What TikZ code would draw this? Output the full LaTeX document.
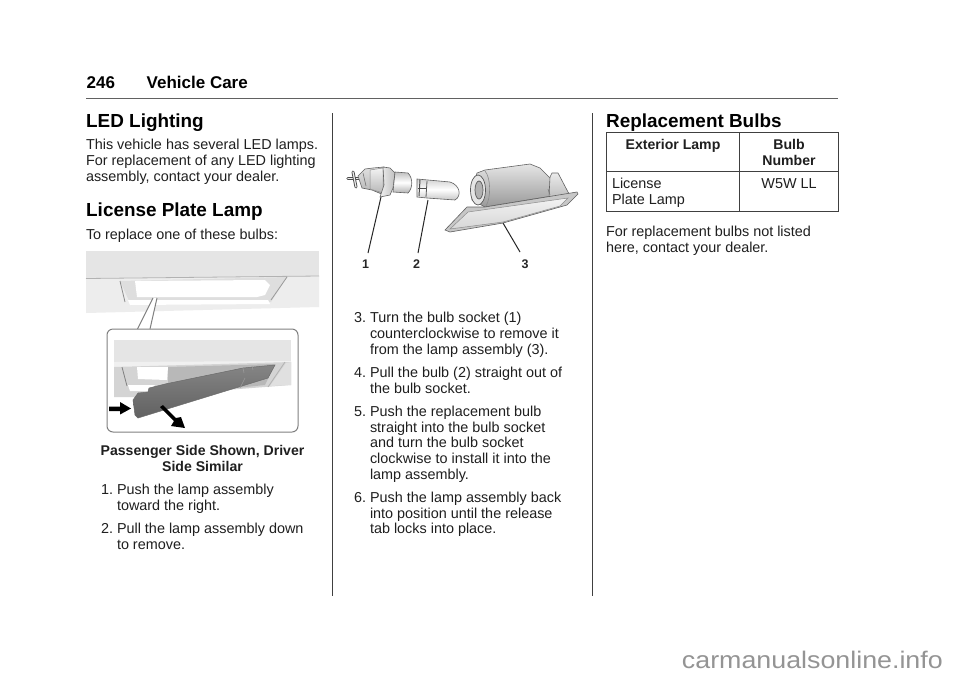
\documentclass[tikz,border=0pt]{standalone}
\usepackage{fontspec}
\setmainfont{Liberation Sans}
\newcommand{\stepnum}[1]{\makebox[16pt][l]{#1}}
\tikzset{
  body/.style={anchor=base west,inner sep=0pt,outer sep=0pt,font=\fontsize{14.4}{16}\selectfont,text=black!88},
  bodyc/.style={anchor=base,inner sep=0pt,outer sep=0pt,font=\fontsize{14.1}{16}\bfseries\selectfont,text=black!88},
  cell/.style={body,anchor=base},
  head/.style={anchor=base west,inner sep=0pt,font=\fontsize{18.9}{21}\bfseries\selectfont},
  pagehead/.style={anchor=base west,inner sep=0pt,font=\fontsize{17}{19}\bfseries\selectfont},
  rulev/.style={draw=black!75,line width=0.9pt},
  leader/.style={draw=black!85,line width=1pt},
  num/.style={anchor=base,inner sep=0pt,font=\fontsize{12.5}{14}\bfseries\selectfont,text=black!85},
  callout/.style={draw=black!50,line width=1pt,fill=white,rounded corners=6pt},
  arrowfill/.style={fill=black,draw=none},
  lampdark/.style={top color=black!48,bottom color=black!62,draw=black!58,line width=0.5pt},
  part/.style={draw=black!62,line width=0.6pt},
}
\begin{document}
\begin{tikzpicture}[x=1pt,y=-1pt]
\useasboundingbox (0,0) rectangle (960,678);
\fill[white] (0,0) rectangle (960,678);
% page header
\node[pagehead] (pg) at (86.5,88) {246};
\node[pagehead] (ttl) at (146.5,88) {Vehicle Care};
\draw[black!62,line width=1pt] (86,98.7) -- (838,98.7);
\draw[rulev] (332.5,113) -- (332.5,596);
\draw[rulev] (592.5,113) -- (592.5,596);
% column 1
\node[head] (h1) at (86,127) {LED Lighting};
\node[body] (a1) at (86,149.5) {This vehicle has several LED lamps.};
\node[body] (a2) at (86,165.5) {For replacement of any LED lighting};
\node[body] (a3) at (86,181.5) {assembly, contact your dealer.};
\node[head] (h2) at (86,216) {License Plate Lamp};
\node[body] (a4) at (86,239) {To replace one of these bulbs:};
% photo 1
\fill[black!10] (86,251) rectangle (319,278);
\fill[black!7] (86,278) -- (319,276) -- (319,307) -- (86,313) -- cycle;
\draw[black!30,line width=0.8pt] (86,278.5) -- (319,276);
\fill[black!13] (120,281) -- (287,277) -- (271,302) -- (131,305) -- cycle;
\draw[black!45,line width=0.8pt] (120,281) -- (125,302);
\draw[black!40,line width=0.8pt] (287,277) -- (271,300);
\fill[white] (135,281) -- (265,280) -- (270,285) -- (265,295) -- (257,297) -- (137,297) -- cycle;
\fill[white] (128,300) -- (268,300) -- (270,304) -- (130,305) -- cycle;
% callout
\coordinate (pa) at (153,298);
\coordinate (pb) at (157,298);
\coordinate (qa) at (137.5,329);
\coordinate (qb) at (150,329);
\path[callout] (107,329) rectangle (298,432);
\fill[white] (pa) -- (qa) -- ([yshift=1.5pt]qa) -- ([yshift=1.5pt]qb) -- (qb) -- (pb) -- cycle;
\draw[black!50,line width=1pt] (pa) -- (qa);
\draw[black!50,line width=1pt] (pb) -- (qb);
% photo 1 inset
\fill[black!10] (114,340) rectangle (291,362);
\fill[black!6] (114,362) -- (291,361) -- (291,366) -- (114,367) -- cycle;
\fill[black!17] (114,367) -- (291,362) -- (291,385) -- (135,397) -- (114,397) -- cycle;
\fill[black!28] (168,367) -- (275,364) -- (265,385) -- (168,395) -- cycle;
\fill[white] (137,367) -- (168,367) -- (167,380) -- (138,379) -- cycle;
\fill[white] (128,385) -- (155,385) -- (150,391) -- (130,391) -- cycle;
\draw[black!50,line width=0.8pt] (122,367) -- (127,386);
\fill[black!12] (270,386) -- (286,363) -- (291,362) -- (291,385) -- cycle;
\draw[black!30,line width=0.8pt] (285,362) -- (268,387);
\path[lampdark] (133,400) -- (138,393) -- (148,392) -- (149,388) -- (165,384) -- (243,368) -- (275,365) -- (268,378) -- (138,418) -- (135,415) -- cycle;
\draw[black!40,line width=0.6pt] (245,378) -- (240,388);
\draw[black!40,line width=0.6pt] (243,368) -- (244,373);
\draw[black!40,line width=0.6pt] (252,366) -- (253,370);
% arrows in inset
\path[arrowfill] (109,406.5) -- (120,406.5) -- (120,402) -- (131,408.5) -- (120,414.5) -- (120,411) -- (109,411) -- cycle;
\path[arrowfill] (160,407) -- (163,405) -- (176,418) -- (181,417) -- (185,428) -- (171,426) -- (174,421) -- cycle;
% caption
\node[bodyc] (c1) at (202.5,455) {Passenger Side Shown, Driver};
\node[bodyc] (c2) at (202.5,471) {Side Similar};
\node[body] (s1) at (101,494) {\stepnum{1.}Push the lamp assembly};
\node[body] (s1b) at (117,510) {toward the right.};
\node[body] (s2) at (101,533) {\stepnum{2.}Pull the lamp assembly down};
\node[body] (s2b) at (117,549) {to remove.};
% photo 2: socket
\coordinate (b1a) at (381,197);
\coordinate (b1b) at (368,253);
\coordinate (b2a) at (428,200);
\coordinate (b2b) at (418,253);
\coordinate (b3a) at (503,223);
\coordinate (b3b) at (520,252);
\draw[black!70,line width=3.2pt,line cap=round] (348,178.5) -- (364,178.5);
\draw[black!8,line width=1.4pt,line cap=round] (348,178.5) -- (364,178.5);
\draw[black!70,line width=3pt,line cap=round] (353,172) -- (356,187);
\draw[black!8,line width=1.2pt,line cap=round] (353,172) -- (356,187);
\path[part,top color=black!12,bottom color=black!30] (358,176) -- (365,169) -- (373,168) -- (384,167) -- (384,195) -- (372,190) -- (362,188) -- cycle;
\path[draw=black!45,line width=0.5pt,top color=black!5,bottom color=black!28] (370,170) -- (383,168) -- (383,193) -- (370,189) -- cycle;
\draw[black!55,line width=0.6pt] (363,173) -- (366,186);
\path[part,left color=black!6,right color=black!25] (383,167) -- (390,168) -- (395,173) -- (393,188) -- (390,195) -- (380,197) -- (384,185) -- cycle;
\path[part,top color=black!25,bottom color=black!30,middle color=white] (395,172) -- (408,173) .. controls (413,178) and (413,188) .. (408,193) -- (393,192) -- cycle;
% bulb
\path[part,top color=black!18,bottom color=black!22,middle color=white] (417,179) -- (450,182) .. controls (460,185) and (462,196) .. (455,200) -- (427,198) -- (417,197) -- cycle;
\draw[black!70,line width=1pt] (420,180) -- (419,196);
\draw[black!65,line width=0.8pt] (427,181) -- (426,197);
\draw[black!70,line width=1pt] (418,188) -- (426,188);
% lamp housing
\path[part,top color=black!10,bottom color=black!40] (472,188) -- (477,173) -- (485,170) -- (530,164) -- (540,168) -- (552,180) -- (552,196) -- (485,207) -- (472,200) -- cycle;
\path[part,top color=black!8,bottom color=black!25] (550,177) -- (552,173) -- (558,173) -- (568,192) -- (570,195) -- (549,197) -- cycle;
\draw[black!55,line width=0.6pt] (548,189) -- (550,195);
\draw[black!65,line width=0.7pt,fill=black!10] (478,190) ellipse [x radius=7.5pt,y radius=15pt];
\draw[black!65,line width=0.7pt,fill=black!30] (479,190) ellipse [x radius=4pt,y radius=9pt];
\draw[black!45,line width=0.6pt] (485,171) .. controls (491,178) and (491,198) .. (486,206);
\path[part,fill=black!22] (445,230) -- (467,207) -- (485,207) -- (577,192) -- (578,194) -- (567,205) -- (503,223) -- (450,232) -- cycle;
\path[draw=black!45,line width=0.5pt,top color=black!5,bottom color=black!16] (450,229) -- (468,212) -- (568,198) -- (560,206) -- (503,222) -- cycle;
\draw[leader] (b1a) -- (b1b);
\draw[leader] (b2a) -- (b2b);
\draw[leader] (b3a) -- (b3b);
\node[num] (n1) at (365.5,268) {1};
\node[num] (n2) at (416.5,268) {2};
\node[num] (n3) at (525,268) {3};
% column 2 text
\node[body] (t1) at (354,322) {\stepnum{3.}Turn the bulb socket (1)};
\node[body] (t1b) at (370,338) {counterclockwise to remove it};
\node[body] (t1c) at (370,354) {from the lamp assembly (3).};
\node[body] (t2) at (354,377) {\stepnum{4.}Pull the bulb (2) straight out of};
\node[body] (t2b) at (370,393) {the bulb socket.};
\node[body] (t3) at (354,416) {\stepnum{5.}Push the replacement bulb};
\node[body] (t3b) at (370,432) {straight into the bulb socket};
\node[body] (t3c) at (370,447) {and turn the bulb socket};
\node[body] (t3d) at (370,463) {clockwise to install it into the};
\node[body] (t3e) at (370,479) {lamp assembly.};
\node[body] (t4) at (354,502) {\stepnum{6.}Push the lamp assembly back};
\node[body] (t4b) at (370,518) {into position until the release};
\node[body] (t4c) at (370,533) {tab locks into place.};
% column 3
\node[head] (h3) at (606,127) {Replacement Bulbs};
\draw[black!75,line width=0.9pt] (606,132) rectangle (838,211);
\draw[black!75,line width=0.9pt] (739,132) -- (739,211);
\draw[black!75,line width=0.9pt] (606,171) -- (838,171);
\node[bodyc] (th1) at (673,149) {Exterior Lamp};
\node[bodyc] (th2) at (789,149) {Bulb};
\node[bodyc] (th2b) at (789,165) {Number};
\node[body] (td1) at (612,188) {License};
\node[body] (td1b) at (612,204) {Plate Lamp};
\node[cell] (td2) at (789,188) {W5W LL};
\node[body] (e1) at (606,236) {For replacement bulbs not listed};
\node[body] (e2) at (606,252) {here, contact your dealer.};
% watermark
\node[anchor=base east,inner sep=0pt,font=\fontsize{24}{26}\selectfont,text=black!42,xscale=1.117,transform shape] (wm) at (943,668) {carmanualsonline.info};
\end{tikzpicture}
\end{document}
